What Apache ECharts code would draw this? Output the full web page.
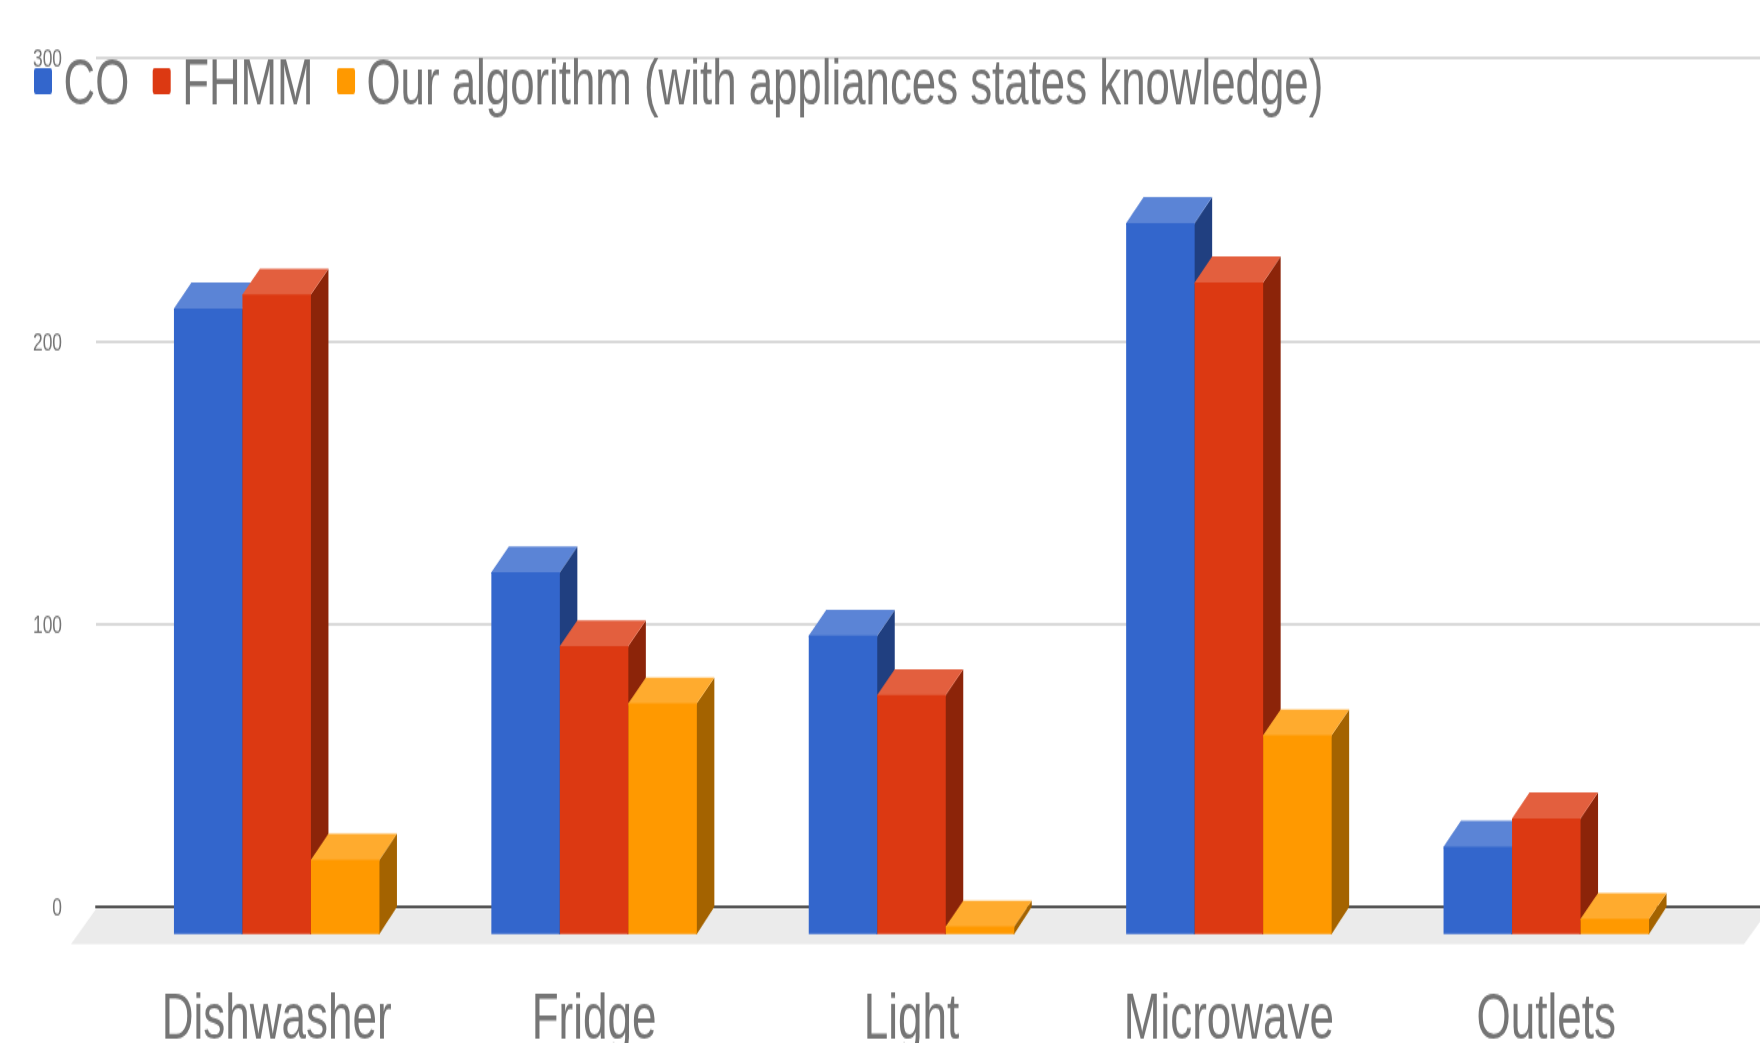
<!DOCTYPE html>
<html>
<head>
<meta charset="utf-8">
<style>
html,body{margin:0;padding:0;background:#fff;width:1760px;height:1043px}
#c{width:1760px;height:720px;transform:scaleY(1.4486);transform-origin:0 0}
</style>
<script src="https://cdn.jsdelivr.net/npm/echarts@6/dist/echarts.min.js"></script>
</head>
<body>
<div id="c"></div>
<script>
const categories = ['Dishwasher', 'Fridge', 'Light', 'Microwave', 'Outlets'];
const seriesNames = ['CO', 'FHMM', 'Our algorithm (with appliances states knowledge)'];
const coValues = [220.6, 127.4, 105, 250.8, 30.4];
const fhmmValues = [225.5, 101.3, 84, 229.8, 40.4];
const ourValues = [25.8, 81, 2.2, 69.8, 4.9];
const yTicks = [0, 100, 200, 300];

const frontColors = ['#3366CC', '#DC3912', '#FF9900'];
const topColors = ['#5B84D6', '#E35F3E', '#FFAB2E'];
const sideColors = ['#203F80', '#8C2409', '#A46300'];
const barW = 68.5, dx = 17.5, dy = 17.8, baseDrop = 18.8;

function barRenderer(si) {
  return function (params, api) {
    const back = api.coord([api.value(0), api.value(1)]);
    const base = api.coord([api.value(0), 0]);
    const left = back[0] + (si - 1.5) * barW;
    const right = left + barW;
    const topY = back[1] + dy;
    const botY = base[1] + baseDrop;
    return {
      type: 'group',
      children: [
        { type: 'polygon', shape: { points: [[right - 1, topY], [right, topY], [right + dx, topY - dy], [right + dx, botY - baseDrop], [right, botY], [right - 1, botY]] }, style: { fill: sideColors[si] } },
        { type: 'polygon', shape: { points: [[left, topY + 1], [left, topY], [left + dx, topY - dy], [right + dx, topY - dy], [right, topY], [right, topY + 1]] }, style: { fill: topColors[si] } },
        { type: 'rect', shape: { x: left, y: topY, width: barW, height: botY - topY }, style: { fill: frontColors[si] } }
      ]
    };
  };
}

function floorRenderer(params, api) {
  const zero = api.coord([0, 0]);
  const cs = params.coordSys;
  const t = zero[1] + 1.6, b = zero[1] + 25.8, r = cs.x + cs.width;
  return {
    type: 'polygon',
    shape: { points: [[cs.x, t], [r + 9, t], [r - 16, b], [cs.x - 25, b]] },
    style: { fill: '#EBEBEB' }
  };
}

const allValues = [coValues, fhmmValues, ourValues];
const chart = echarts.init(document.getElementById('c'), null, { renderer: 'canvas', devicePixelRatio: 1 });
chart.setOption({
  animation: false,
  backgroundColor: '#ffffff',
  textStyle: { fontFamily: 'Liberation Sans' },
  legend: {
    left: 34, top: 38, padding: 0,
    icon: 'path://M2,0H16A2,2,0,0,1,18,2V16A2,2,0,0,1,16,18H2A2,2,0,0,1,0,16V2A2,2,0,0,1,2,0Z',
    itemWidth: 18, itemHeight: 18, itemGap: 23.5,
    selectedMode: false,
    data: seriesNames,
    formatter: name => '{t|' + name + '}',
    textStyle: {
      rich: { t: { fontSize: 43.8, color: '#757575', fontFamily: 'Liberation Sans', padding: [8, 0, 0, 6.5] } }
    }
  },
  grid: [
    { left: 96, right: 0, top: 40, height: 586, outerBoundsMode: 'none' },
    { left: 118, width: 1587, top: 40, height: 586, outerBoundsMode: 'none' }
  ],
  xAxis: [
    { gridIndex: 0, type: 'category', data: [''], axisTick: { show: false }, axisLabel: { show: false },
      axisLine: { show: true, lineStyle: { color: '#555555', width: 2 } } },
    { gridIndex: 1, type: 'category', data: categories, axisTick: { show: false }, axisLine: { show: false },
      axisLabel: { show: true, interval: 0, margin: 57, fontSize: 44, color: '#757575', fontFamily: 'Liberation Sans' } }
  ],
  yAxis: [
    { gridIndex: 0, type: 'value', min: 0, max: yTicks[3], interval: 100,
      axisLine: { show: false }, axisTick: { show: false },
      axisLabel: { margin: 34, formatter: '{v|{value}}',
        rich: { v: { fontSize: 17.4, color: '#757575', fontFamily: 'Liberation Sans', padding: [3, 0, 0, 0] } } },
      splitLine: { show: true, lineStyle: { color: '#CCCCCC', width: 1.6 } } },
    { gridIndex: 1, type: 'value', min: 0, max: yTicks[3], interval: 100, show: false, splitLine: { show: false } }
  ],
  series: [
    { type: 'custom', name: 'floor', xAxisIndex: 0, yAxisIndex: 0, silent: true, z: 1, clip: false,
      data: [[0, 0]], encode: { x: 0, y: 1 }, renderItem: floorRenderer }
  ].concat(seriesNames.map((name, si) => ({
    type: 'custom', name, xAxisIndex: 1, yAxisIndex: 1, z: 2 + si, clip: false,
    itemStyle: { color: frontColors[si] },
    data: categories.map((c, i) => [i, allValues[si][i]]),
    encode: { x: 0, y: 1 },
    renderItem: barRenderer(si)
  })))
});
</script>
</body>
</html>
